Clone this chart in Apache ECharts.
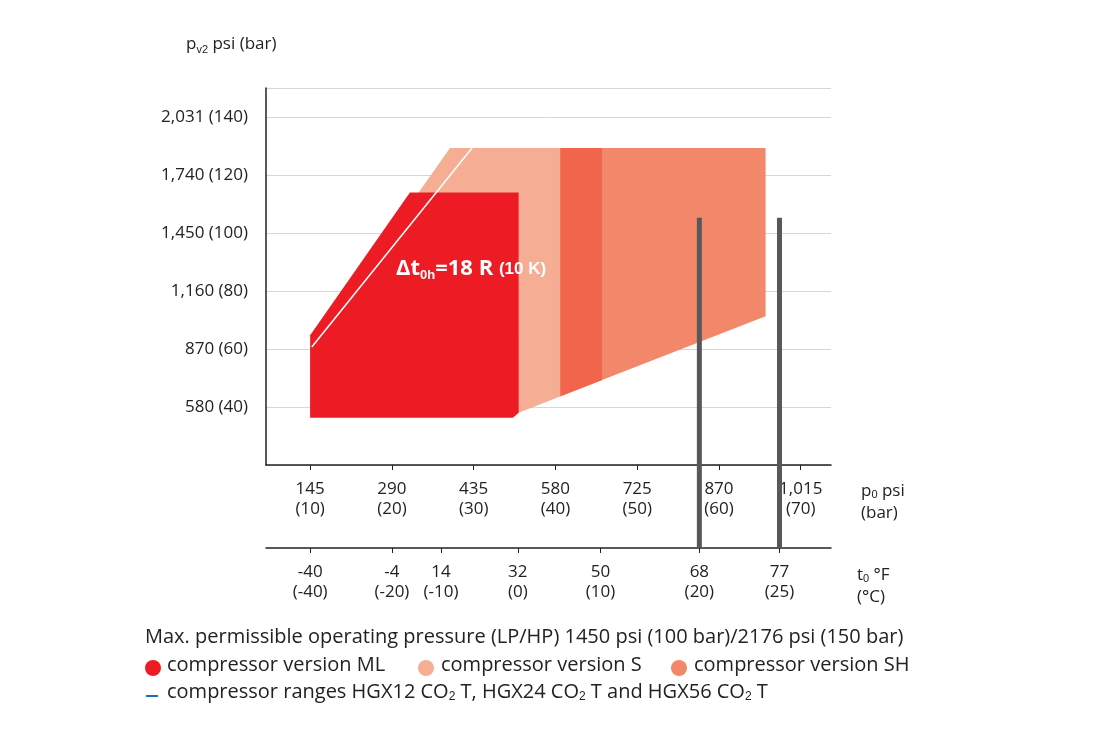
<!DOCTYPE html>
<html><head><meta charset="utf-8">
<script src="https://cdn.jsdelivr.net/npm/echarts@6/dist/echarts.min.js"></script>
<style>html,body{margin:0;background:#fff}#chart{width:1120px;height:747px}</style>
</head><body><div id="chart"></div>
<script>
// pressure ticks (bar) and their labels
const pressureTicks = [10, 20, 30, 40, 50, 60, 70];
const pressurePsi = ['145', '290', '435', '580', '725', '870', '1,015'];
// temperature ticks placed at their saturation pressure (bar)
const tempTicks = [10, 20, 26, 35.4, 45.5, 57.6, 67.4];
const tempF = ['-40', '-4', '14', '32', '50', '68', '77'];
const tempC = ['-40', '-20', '-10', '0', '10', '20', '25'];
const hpTicks = [40, 60, 80, 100, 120, 140];
const hpPsi = ['580', '870', '1,160', '1,450', '1,740', '2,031'];

// envelopes [p0 bar, pv2 bar]
const versionS = [[10, 60.7], [27.1, 129.3], [45.7, 129.3], [45.7, 49.3], [35.5, 38], [10, 38]];
const versionSH = [[40.6, 129.3], [65.7, 129.3], [65.7, 71.3], [40.6, 43.7]];
const overlapSSH = [[40.6, 129.3], [45.7, 129.3], [45.7, 49.3], [40.6, 43.7]];
const versionML = [[10, 36.3], [10, 64.7], [22.2, 114], [35.5, 114], [35.5, 38], [34.8, 36.3]];
const whiteLine = [[10.2, 60.7], [29.8, 129.3]];
const rangeBars = [[57.6, 105.3], [67.4, 105.3]];

const FONT = 'Open Sans';

function polySeries(pts, color) {
  return {
    type: 'custom', data: [0], silent: true,
    renderItem: (p, api) => ({
      type: 'polygon',
      shape: { points: pts.map(d => api.coord(d)) },
      style: { fill: color }
    })
  };
}

const chart = echarts.init(document.getElementById('chart'));
chart.setOption({
  animation: false,
  textStyle: { fontFamily: FONT },
  grid: { left: 266, right: 289, top: 88, bottom: 282 },
  xAxis: [{
    type: 'value', min: 4.6, max: 73.7, position: 'bottom',
    axisLine: { lineStyle: { color: '#222', width: 1.5 } },
    axisTick: { customValues: pressureTicks, length: 5, lineStyle: { color: '#222' } },
    axisLabel: {
      customValues: pressureTicks, color: '#222', fontSize: 17, lineHeight: 20, margin: 14,
      formatter: v => pressurePsi[pressureTicks.indexOf(v)] + '\n(' + v + ')'
    },
    splitLine: { show: false }
  }, {
    type: 'value', min: 4.6, max: 73.7, position: 'bottom', offset: 83,
    axisLine: { onZero: false, lineStyle: { color: '#222', width: 1.5 } },
    axisTick: { customValues: tempTicks, length: 5, lineStyle: { color: '#222' } },
    axisLabel: {
      customValues: tempTicks, color: '#222', fontSize: 17, lineHeight: 20, margin: 14,
      formatter: v => { const i = tempTicks.indexOf(v); return tempF[i] + '\n(' + tempC[i] + ')'; }
    },
    splitLine: { show: false }
  }],
  yAxis: {
    type: 'value', min: 20, max: 150, interval: 20,
    axisLine: { show: true, lineStyle: { color: '#222', width: 1.5 } },
    axisTick: { show: false },
    axisLabel: {
      color: '#222', fontSize: 17, margin: 18,
      formatter: v => { const i = hpTicks.indexOf(v); return i < 0 ? '' : hpPsi[i] + ' (' + v + ')'; }
    },
    splitLine: { lineStyle: { color: '#cfd8de', width: 1 } }
  },
  series: [
    polySeries(versionS, '#f5ae94'),
    polySeries(versionSH, '#f28769'),
    polySeries(overlapSSH, '#f0654b'),
    polySeries(versionML, '#ed1c24'),
    {
      type: 'line', data: whiteLine, symbol: 'none', silent: true,
      lineStyle: { color: '#fff', width: 1.5 }
    },
    {
      type: 'custom', data: rangeBars, clip: false, silent: true,
      renderItem: (p, api) => {
        const top = api.coord([api.value(0), api.value(1)]);
        return {
          type: 'rect',
          shape: { x: top[0] - 2.5, y: top[1], width: 5, height: 548 - top[1] },
          style: { fill: '#58585a' }
        };
      }
    }
  ],
  graphic: [
    { type: 'text', left: 186, top: 36, style: {
      text: 'p{s|v2} psi (bar)', fill: '#222', font: '17px ' + FONT,
      rich: { s: { fontSize: 11, padding: [10, 0, 0, 0], fill: '#222' } } } },
    { type: 'text', left: 861, top: 480, style: {
      text: 'p{s|0} psi\n(bar)', fill: '#222', font: '17px ' + FONT, lineHeight: 22,
      rich: { s: { fontSize: 11, padding: [8, 0, 0, 0], fill: '#222' } } } },
    { type: 'text', left: 857, top: 564, style: {
      text: 't{s|0} °F\n(°C)', fill: '#222', font: '17px ' + FONT, lineHeight: 22, align: 'left',
      rich: { s: { fontSize: 11, padding: [8, 0, 0, 0], fill: '#222' } } } },
    { type: 'text', left: 396, top: 258, z: 100, style: {
      text: 'Δt{s|0h}=18 R {m|(10 K)}', fill: '#fff', font: 'bold 22px ' + FONT,
      rich: { s: { fontSize: 13, fontWeight: 'bold', padding: [12, 0, 0, 0], fill: '#fff' },
              m: { fontSize: 17, fontWeight: 'bold', fill: '#fff' } } } },
    { type: 'text', left: 145, top: 627, style: {
      text: 'Max. permissible operating pressure (LP/HP) 1450 psi (100 bar)/2176 psi (150 bar)',
      fill: '#222', font: '20px ' + FONT } },
    { type: 'circle', shape: { cx: 153, cy: 668, r: 8 }, style: { fill: '#ed1c24' } },
    { type: 'text', left: 167, top: 655, style: { text: 'compressor version ML', fill: '#222', font: '20px ' + FONT } },
    { type: 'circle', shape: { cx: 426, cy: 668, r: 8 }, style: { fill: '#f5ae94' } },
    { type: 'text', left: 441, top: 655, style: { text: 'compressor version S', fill: '#222', font: '20px ' + FONT } },
    { type: 'circle', shape: { cx: 679, cy: 668, r: 8 }, style: { fill: '#f28769' } },
    { type: 'text', left: 694, top: 655, style: { text: 'compressor version SH', fill: '#222', font: '20px ' + FONT } },
    { type: 'rect', shape: { x: 146, y: 695, width: 12, height: 2 }, style: { fill: '#1f6fb5' } },
    { type: 'text', left: 167, top: 682, style: {
      text: 'compressor ranges HGX12 CO{s|2} T, HGX24 CO{s|2} T and HGX56 CO{s|2} T', fill: '#222', font: '20px ' + FONT,
      rich: { s: { fontSize: 12, padding: [10, 0, 0, 0], fill: '#222' } } } }
  ]
});
</script></body></html>
